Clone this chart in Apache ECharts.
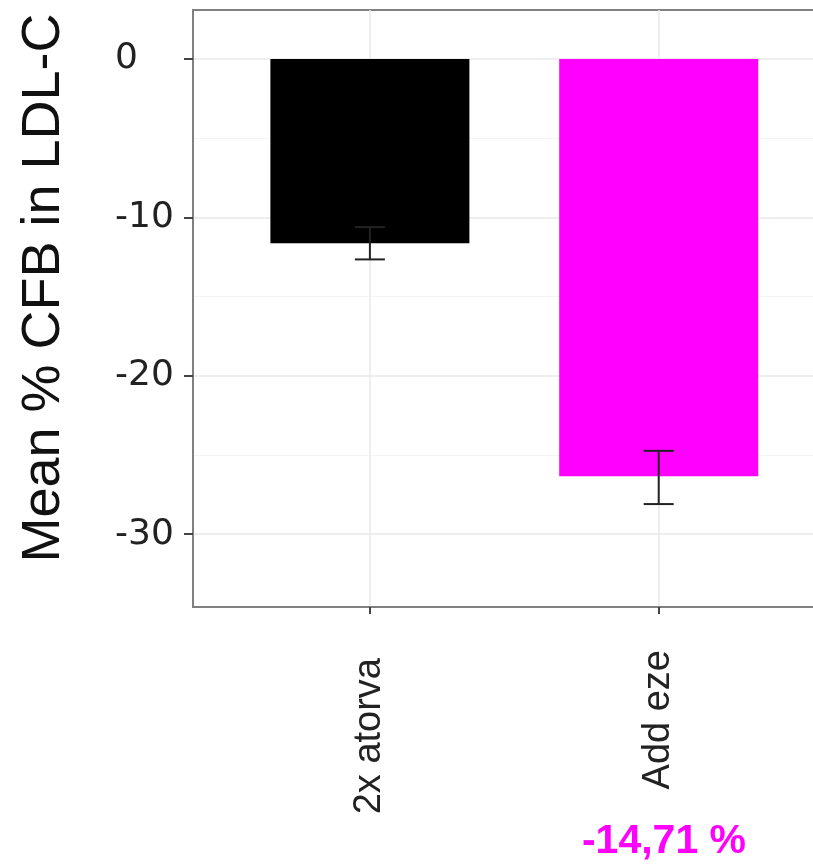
<!DOCTYPE html>
<html>
<head>
<meta charset="utf-8">
<script src="https://cdn.jsdelivr.net/npm/echarts@6/dist/echarts.min.js"></script>
<style>
html,body{margin:0;padding:0;background:#fff;}
#c{width:813px;height:866px;}
</style>
</head>
<body>
<div id="c"></div>
<script>
// ---- data ----
var categories = ['2x atorva', 'Add eze'];
var categoryPos = [1, 2];
var meanValues = [-11.63, -26.35];
var errLow = [-12.65, -28.1];
var errHigh = [-10.61, -24.74];
var barColors = ['#000000', '#ff00ff'];
var yMajorTicks = [-30, -20, -10, 0];
var yMinorTicks = [-25, -15, -5];
var yTitle = 'Mean % CFB in LDL-C';
var annotation = '-14,71 %';

var chart = echarts.init(document.getElementById('c'), null, {renderer: 'canvas'});

var barData = categoryPos.map(function (p, i) {
  return {value: [p, meanValues[i]], itemStyle: {color: barColors[i]}};
});
var errData = categoryPos.map(function (p, i) {
  return [p, errLow[i], errHigh[i]];
});

var option = {
  animation: false,
  backgroundColor: '#ffffff',
  grid: {
    left: 193, top: 10, right: -19, bottom: 259,
    outerBoundsMode: 'none',
    containLabel: false,
    show: true, backgroundColor: '#ffffff',
    borderColor: '#808080', borderWidth: 2
  },
  xAxis: {
    type: 'value', min: 0.3875, max: 2.6,
    axisLine: {show: true, onZero: false, lineStyle: {color: '#808080', width: 2}},
    axisTick: {show: true, customValues: categoryPos, length: 7, lineStyle: {color: '#444', width: 2}},
    axisLabel: {
      customValues: categoryPos,
      rotate: 90,
      margin: 43,
      formatter: function (v) {
        var i = categoryPos.indexOf(v);
        return i === 0 ? '{a|' + categories[i] + '}' : '{b|' + categories[i] + '}';
      },
      rich: {
        a: {fontFamily: 'Liberation Sans', fontSize: 38, color: '#222', padding: [0, 8, 0, 0]},
        b: {fontFamily: 'Liberation Sans', fontSize: 38, color: '#222'}
      }
    },
    splitLine: {show: true, lineStyle: {color: '#e8e8e8', width: 1.5}}
  },
  yAxis: [{
    type: 'value', min: -34.6, max: 3.1,
    axisLine: {show: true, onZero: false, lineStyle: {color: '#808080', width: 2}},
    axisTick: {show: true, customValues: yMajorTicks, length: 9, lineStyle: {color: '#444', width: 2}},
    axisLabel: {
      customValues: yMajorTicks,
      align: 'left',
      margin: 78,
      fontFamily: 'DejaVu Sans',
      fontSize: 36,
      color: '#222'
    },
    splitLine: {show: true, lineStyle: {color: '#e8e8e8', width: 1.5}}
  }, {
    type: 'value', min: -34.6, max: 3.1, position: 'left',
    axisLine: {show: false},
    axisTick: {show: false, customValues: yMinorTicks},
    axisLabel: {show: false, customValues: yMinorTicks},
    splitLine: {show: true, lineStyle: {color: '#f4f4f4', width: 1}}
  }],
  series: [{
    type: 'bar',
    data: barData,
    barWidth: 199,
    z: 2
  }, {
    type: 'custom',
    data: errData,
    z: 3,
    renderItem: function (params, api) {
      var x = api.value(0);
      var top = api.coord([x, api.value(2)]);
      var bot = api.coord([x, api.value(1)]);
      var half = 15;
      var st = {stroke: '#222', lineWidth: 2};
      return {
        type: 'group',
        children: [
          {type: 'line', shape: {x1: top[0], y1: top[1], x2: bot[0], y2: bot[1]}, style: st},
          {type: 'line', shape: {x1: top[0] - half, y1: top[1], x2: top[0] + half, y2: top[1]}, style: st},
          {type: 'line', shape: {x1: bot[0] - half, y1: bot[1], x2: bot[0] + half, y2: bot[1]}, style: st}
        ]
      };
    }
  }],
  graphic: [{
    type: 'text',
    x: 44, y: 288,
    rotation: Math.PI / 2,
    style: {
      text: yTitle,
      fontFamily: 'Liberation Sans',
      fontSize: 54,
      fill: '#111',
      align: 'center',
      verticalAlign: 'middle'
    }
  }, {
    type: 'text',
    x: 664, y: 842,
    style: {
      text: annotation,
      fontFamily: 'Liberation Sans',
      fontWeight: 'bold',
      fontSize: 41,
      fill: '#ff00ff',
      align: 'center',
      verticalAlign: 'middle'
    }
  }]
};
chart.setOption(option);
</script>
</body>
</html>
